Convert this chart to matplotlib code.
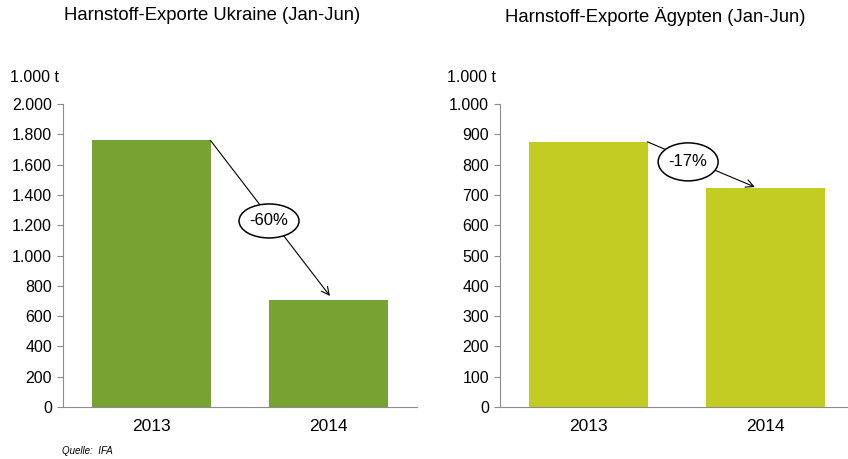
import matplotlib.pyplot as plt
from matplotlib.patches import Ellipse

plt.rcParams["font.family"] = ["Liberation Sans", "DejaVu Sans"]

years = ["2013", "2014"]
ukraine = [1760, 705]
egypt = [875, 723]
ukraine_change = "-60%"
egypt_change = "-17%"

FIG_W, FIG_H = 848, 459
AX_W, AX_H = 354, 303


def draw_panel(ax, values, color, ymax, step, label_pos, arrow_end, change, ell_h):
    x = range(len(values))
    ax.bar(x, values, width=0.667, color=color)
    ax.set_xlim(-0.5, len(values) - 0.5)
    ax.set_ylim(0, ymax)
    ticks = list(range(0, ymax + 1, step))
    ax.set_yticks(ticks)
    ax.set_yticklabels([f"{t:,}".replace(",", ".") for t in ticks])
    ax.set_xticks(list(x))
    ax.set_xticklabels(years)
    for s in ["top", "right"]:
        ax.spines[s].set_visible(False)
    for s in ["left", "bottom"]:
        ax.spines[s].set_color("#8c8c8c")
        ax.spines[s].set_linewidth(0.8)
    ax.tick_params(axis="y", length=4, color="#8c8c8c", labelsize=11.5, pad=4)
    ax.tick_params(axis="x", length=0, labelsize=12.5, pad=8.5)
    ax.text(-0.15, 1.089, "1.000 t", transform=ax.transAxes, fontsize=11.5,
            ha="left", va="center")

    start = (0.333, values[0])
    ax.annotate("", xy=arrow_end, xytext=start,
                arrowprops=dict(arrowstyle="->", color="black", lw=0.8,
                                shrinkA=0, shrinkB=0, mutation_scale=14))
    # ellipse sized in pixels, converted to data units
    ew = 60 / (AX_W / len(values))
    eh = ell_h / AX_H * ymax
    ax.add_patch(Ellipse(label_pos, ew, eh, facecolor="white", edgecolor="black",
                         lw=1.1, zorder=5))
    ax.text(label_pos[0], label_pos[1], change, ha="center", va="center",
            fontsize=12, zorder=6)


fig = plt.figure(figsize=(FIG_W / 100, FIG_H / 100), dpi=100)
ax1 = fig.add_axes([63 / FIG_W, 52 / FIG_H, AX_W / FIG_W, AX_H / FIG_H])
ax2 = fig.add_axes([500 / FIG_W, 52 / FIG_H, AX_W / FIG_W, AX_H / FIG_H])

draw_panel(ax1, ukraine, "#78a232", 2000, 200, (0.664, 1228), (1.008, 733),
           ukraine_change, 34)
draw_panel(ax2, egypt, "#c3cc22", 1000, 100, (0.563, 809), (0.94, 726),
           egypt_change, 38)

fig.text(212 / FIG_W, 1 - 16 / FIG_H, "Harnstoff-Exporte Ukraine (Jan-Jun)",
         fontsize=13.3, ha="center", va="center")
fig.text(655 / FIG_W, 1 - 16 / FIG_H, "Harnstoff-Exporte Ägypten (Jan-Jun)",
         fontsize=13.3, ha="center", va="center")

fig.text(62 / FIG_W, 1 - 451 / FIG_H, "Quelle:  IFA", fontsize=7, style="italic",
         va="center")

fig.savefig("out.png", dpi=100)
